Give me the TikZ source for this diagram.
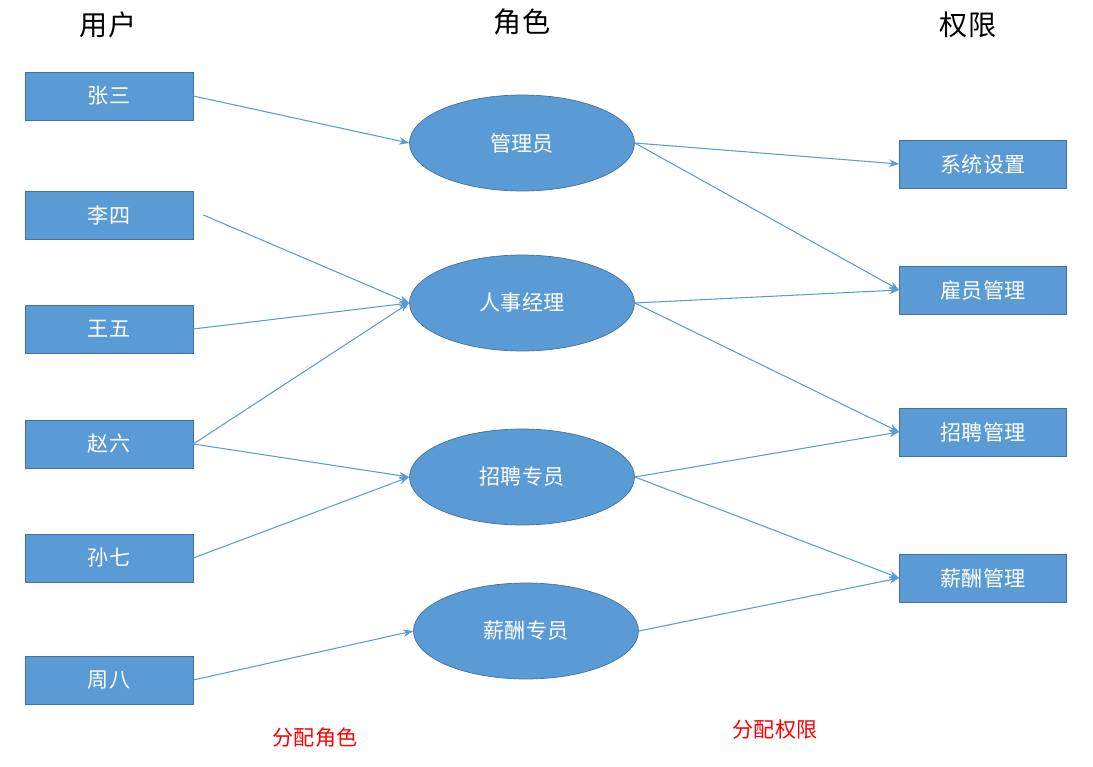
\documentclass[tikz,border=0pt]{standalone}
\usepackage{fontspec}
\setmainfont{Noto Sans CJK SC}
\usetikzlibrary{shapes.geometric, arrows.meta, positioning}
\definecolor{boxblue}{HTML}{5B9BD5}
\definecolor{edgeblue}{HTML}{41719C}
\tikzstyle{user} = [rectangle, draw=edgeblue, fill=boxblue, text=white, minimum width=3.36cm, minimum height=0.96cm, font=\fontsize{12}{14}\selectfont]
\tikzstyle{role} = [ellipse, draw=edgeblue, fill=boxblue, text=white, minimum width=4.5cm, minimum height=1.92cm, font=\fontsize{12}{14}\selectfont]
\tikzstyle{perm} = [rectangle, draw=edgeblue, fill=boxblue, text=white, minimum width=3.34cm, minimum height=0.96cm, font=\fontsize{12}{14}\selectfont]
\tikzstyle{head} = [font=\fontsize{16}{18}\selectfont]
\tikzstyle{note} = [text=red, font=\fontsize{12}{14}\selectfont]
\tikzstyle{assign} = [->, >=Stealth, boxblue, line width=0.6pt]

\begin{document}
\begin{tikzpicture}[x=0.02cm, y=-0.02cm]
	\useasboundingbox (0,0) rectangle (1093,767);

	% Headers
	\node (huser) [head] at (108,25) {用户};
	\node (hrole) [head] at (522,22) {角色};
	\node (hperm) [head] at (968,25) {权限};

	% Users
	\node (zhang) [user] at (109,96)  {张三};
	\node (li)    [user] at (109,215) {李四};
	\node (wang)  [user] at (109,329) {王五};
	\node (zhao)  [user] at (109,444) {赵六};
	\node (sun)   [user] at (109,558) {孙七};
	\node (zhou)  [user] at (109,680) {周八};

	% Roles
	\node (admin)  [role] at (522,143) {管理员};
	\node (hr)     [role] at (522,303) {人事经理};
	\node (recr)   [role] at (522,477) {招聘专员};
	\node (salary) [role] at (526,631) {薪酬专员};

	% Permissions
	\node (sys)   [perm] at (983,164) {系统设置};
	\node (emp)   [perm] at (983,290) {雇员管理};
	\node (hire)  [perm] at (983,432) {招聘管理};
	\node (pay)   [perm] at (983,578) {薪酬管理};

	% Labels
	\node (nrole) [note] at (315,738) {分配角色};
	\node (nperm) [note] at (775,730) {分配权限};

	% Arrows - users to roles
	\draw[assign] (zhang.east) -- (admin.west);
	\draw[assign] ([xshift=0.2cm]li.east) -- (hr.west);
	\draw[assign] (wang.east) -- (hr.west);
	\draw[assign] (zhao.east) -- (hr.west);
	\draw[assign] (zhao.east) -- (recr.west);
	\draw[assign] (sun.east) -- (recr.west);
	\draw[assign] (zhou.east) -- (salary.west);

	% Arrows - roles to permissions
	\draw[assign] (admin.east) -- (sys.west);
	\draw[assign] (admin.east) -- (emp.west);
	\draw[assign] (hr.east) -- (emp.west);
	\draw[assign] (hr.east) -- (hire.west);
	\draw[assign] (recr.east) -- (hire.west);
	\draw[assign] (recr.east) -- (pay.west);
	\draw[assign] (salary.east) -- (pay.west);

\end{tikzpicture}
\end{document}
